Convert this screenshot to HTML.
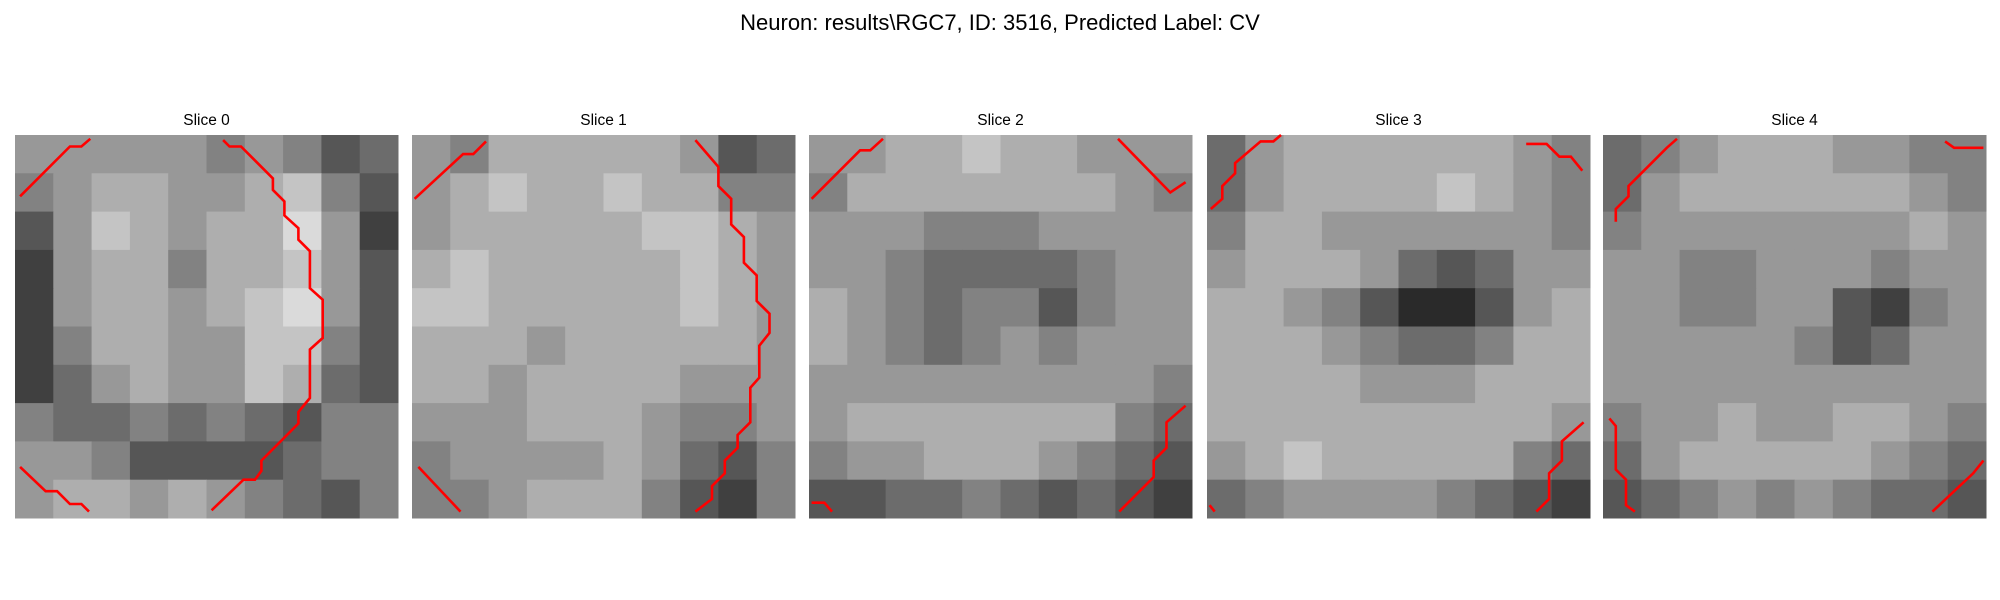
<!DOCTYPE html>
<html><head><meta charset="utf-8"><style>
html,body{margin:0;padding:0;background:#fff;width:2000px;height:600px;overflow:hidden}
svg{display:block;font-family:"Liberation Sans","DejaVu Sans",sans-serif}
</style></head><body>
<svg id="fig" width="2000" height="600">
<text x="1000" y="30" text-anchor="middle" font-size="22" fill="#000">Neuron: results\RGC7, ID: 3516, Predicted Label: CV</text>
</svg>
<script>
const sliceTitles = ["Slice 0","Slice 1","Slice 2","Slice 3","Slice 4"];
const slice0 = [
[6,6,6,6,6,5,6,5,3,4],[5,6,7,7,6,6,7,8,5,3],[3,6,8,7,6,7,7,9,6,2],[2,6,7,7,5,7,7,8,6,3],[2,6,7,7,6,7,8,9,6,3],
[2,5,7,7,6,6,8,8,5,3],[2,4,6,7,6,6,8,7,4,3],[5,4,4,5,4,5,4,3,5,5],[6,6,5,3,3,3,3,4,5,5],[6,7,7,6,7,6,5,4,3,5]];
const slice1 = [
[6,5,7,7,7,7,7,6,3,4],[6,7,8,7,7,8,7,7,5,5],[6,7,7,7,7,7,8,8,7,6],[7,8,7,7,7,7,7,8,7,6],[8,8,7,7,7,7,7,8,7,6],
[7,7,7,6,7,7,7,7,7,6],[7,7,6,7,7,7,7,6,6,6],[6,6,6,7,7,7,6,5,5,6],[5,6,6,6,6,7,6,4,3,5],[5,5,6,7,7,7,5,3,2,5]];
const slice2 = [
[6,6,7,7,8,7,7,6,6,6],[5,7,7,7,7,7,7,7,6,5],[6,6,6,5,5,5,6,6,6,6],[6,6,5,4,4,4,4,5,6,6],[7,6,5,4,5,5,3,5,6,6],
[7,6,5,4,5,6,5,6,6,6],[6,6,6,6,6,6,6,6,6,5],[6,7,7,7,7,7,7,7,5,4],[5,6,6,7,7,7,6,5,4,3],[3,3,4,4,5,4,3,4,3,2]];
const slice3 = [
[4,6,7,7,7,7,7,7,6,5],[4,6,7,7,7,7,8,7,6,5],[5,7,7,6,6,6,6,6,6,5],[6,7,7,7,6,4,3,4,6,6],[7,7,6,5,3,1,1,3,6,7],
[7,7,7,6,5,4,4,5,7,7],[7,7,7,7,6,6,6,7,7,7],[7,7,7,7,7,7,7,7,7,6],[6,7,8,7,7,7,7,7,5,4],[4,5,6,6,6,6,5,4,3,2]];
const slice4 = [
[4,5,6,7,7,7,6,6,5,5],[4,6,7,7,7,7,7,7,6,5],[5,6,6,6,6,6,6,6,7,6],[6,6,5,5,6,6,6,5,6,6],[6,6,5,5,6,6,3,2,5,6],
[6,6,6,6,6,5,3,4,6,6],[6,6,6,6,6,6,6,6,6,6],[5,6,6,7,6,6,7,7,6,5],[4,6,7,7,7,7,7,6,5,4],[3,4,5,6,5,6,5,4,4,3]];
const slices = [slice0,slice1,slice2,slice3,slice4];
// contour lines in 0-300 image-domain units
const contours0 = [
[[4,48],[43,9],[52,9],[59,3]],
[[163,4],[168,9],[177,9],[202,34],[202,43],[211,52],[211,63],[222,73],[222,82],[231,91],[231,120],[241,129],[241,159],[231,168],[231,206],[222,217],[222,226],[193,255],[193,263],[188,270],[179,270],[154,294]],
[[4,260],[24,279],[33,279],[43,289],[52,289],[58,295]]];
const contours1 = [
[[2,50],[40,15],[48,15],[58,5]],
[[222,4],[240,25],[240,40],[250,50],[250,70],[260,80],[260,100],[270,110],[270,130],[280,140],[280,155],[272,165],[272,190],[265,198],[265,225],[255,235],[255,245],[245,255],[245,265],[235,275],[235,285],[222,295]],
[[5,260],[38,295]]];
const contours2 = [
[[2,50],[40,12],[48,12],[58,3]],
[[242,3],[283,45],[295,37]],
[[243,295],[270,268],[270,255],[280,245],[280,225],[295,212]],
[[2,288],[12,288],[18,295]]];
const contours3 = [
[[3,58],[12,50],[12,40],[22,30],[22,22],[42,5],[52,5],[58,0]],
[[250,7],[266,7],[276,17],[285,17],[294,28]],
[[258,295],[268,285],[268,265],[278,255],[278,240],[295,225]],
[[2,290],[6,295]]];
const contours4 = [
[[10,68],[10,58],[20,48],[20,40],[50,10],[58,3]],
[[268,5],[275,10],[298,10]],
[[258,295],[290,265],[298,255]],
[[5,222],[10,228],[10,262],[18,270],[18,290],[25,295]]];
const contours = [contours0,contours1,contours2,contours3,contours4];

const NS="http://www.w3.org/2000/svg";
const svg=document.getElementById('fig');
const panelX=[15,412,809,1207,1603], panelY=135, panelW=383;
const sx=v=>v*panelW/300;
const gray=v=>{const g=Math.round(20+v*22);return `rgb(${g},${g},${g})`;};
slices.forEach((grid,si)=>{
  const g=document.createElementNS(NS,'g');
  g.setAttribute('transform',`translate(${panelX[si]},${panelY})`);
  
  
  svg.appendChild(g);
  const t=document.createElementNS(NS,'text');
  t.setAttribute('x',panelW/2);t.setAttribute('y',-10);t.setAttribute('text-anchor','middle');
  t.setAttribute('font-size','15.5');t.textContent=sliceTitles[si];
  
  
  g.appendChild(t);
  const n=grid.length, c=panelW/n;
  grid.forEach((row,r)=>row.forEach((v,ci)=>{
    const rc=document.createElementNS(NS,'rect');
    rc.setAttribute('x',(ci*c).toFixed(2));rc.setAttribute('y',(r*c).toFixed(2));
    rc.setAttribute('width',(c+0.5).toFixed(2));rc.setAttribute('height',(c+0.5).toFixed(2));
    rc.setAttribute('fill',gray(v));
    
    
    g.appendChild(rc);
  }));
  contours[si].forEach(line=>{
    const p=document.createElementNS(NS,'polyline');
    p.setAttribute('points',line.map(q=>sx(q[0]).toFixed(1)+','+sx(q[1]).toFixed(1)).join(' '));
    p.setAttribute('fill','none');p.setAttribute('stroke','#ff0000');p.setAttribute('stroke-width','2.6');
    
    
    g.appendChild(p);
  });
});
</script>
</body></html>
